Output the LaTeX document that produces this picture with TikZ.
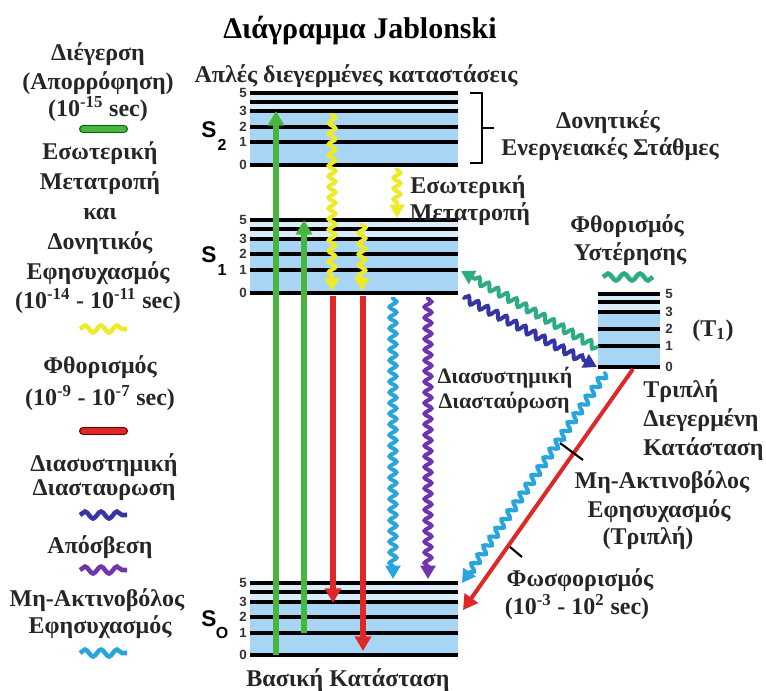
\documentclass[tikz,border=0pt]{standalone}
\usepackage{fontspec}
\setmainfont{Liberation Serif}
\setsansfont{Liberation Sans}
\usetikzlibrary{arrows.meta,decorations.pathmorphing}
\definecolor{lvlblue}{RGB}{168,213,243}
\definecolor{cgreen}{RGB}{72,182,62}
\definecolor{cred}{RGB}{222,40,40}
\definecolor{cyel}{RGB}{238,234,40}
\definecolor{ccyan}{RGB}{40,165,222}
\definecolor{cpurple}{RGB}{112,52,175}
\definecolor{cdblue}{RGB}{52,52,165}
\definecolor{cteal}{RGB}{45,172,132}
\tikzset{
  lvl/.style={line width=3.2pt},
  tx/.style={font=\fontsize{18}{20}\selectfont\bfseries, inner sep=0pt, anchor=base, text=black!85},
  txs/.style={font=\fontsize{16.5}{18}\selectfont\bfseries, inner sep=0pt, anchor=base, text=black!85},
  ttl/.style={font=\fontsize{22.5}{24}\selectfont\bfseries, inner sep=0pt, anchor=base},
  num/.style={font=\fontsize{10}{10}\selectfont\sffamily\bfseries, inner sep=0pt, text=black!80},
  slab/.style={font=\fontsize{17}{17}\selectfont\sffamily\bfseries, inner sep=0pt},
  ssub/.style={font=\fontsize{12}{12}\selectfont\sffamily\bfseries, inner sep=0pt},
  sarr/.style={line width=3.8pt, -{Triangle[width=12pt,length=11pt]}},
  warr/.style={line width=3pt, decorate, decoration={snake, amplitude=2.6pt, segment length=8pt, pre length=1pt, post length=9pt}, -{Triangle[width=11pt,length=10pt]}},
  legwave/.style={line width=3.4pt, decorate, decoration={snake, amplitude=2.6pt, segment length=12pt}},
  legbar/.style={line width=6pt, line cap=round},
}
\begin{document}
\begin{tikzpicture}[x=0.75pt,y=-0.75pt]
\useasboundingbox (0,0) rectangle (766,690);

% ---------- energy levels ----------
% S2
\fill[lvlblue] (250,111) rectangle (458,165);
\fill[lvlblue!45] (250,93) rectangle (458,111);
\foreach \y in {93,102,111,127,142,165} \draw[lvl] (250,\y) -- (458,\y);
\foreach \y/\n in {93/5,111/3,127/2,142/1,165/0} \node[num] (s2n\n) at (243,\y) {\n};
% S1
\fill[lvlblue] (250,239) rectangle (458,293);
\fill[lvlblue!45] (250,220) rectangle (458,239);
\foreach \y in {220,229,239,254,270,293} \draw[lvl] (250,\y) -- (458,\y);
\foreach \y/\n in {220/5,239/3,254/2,270/1,293/0} \node[num] (s1n\n) at (243,\y) {\n};
% S0
\fill[lvlblue] (250,602) rectangle (458,655);
\fill[lvlblue!45] (250,583) rectangle (458,602);
\foreach \y in {583,592,602,617,633,655} \draw[lvl] (250,\y) -- (458,\y);
\foreach \y/\n in {583/5,602/3,617/2,633/1,655/0} \node[num] (s0n\n) at (243,\y) {\n};
% T1
\fill[lvlblue] (598,312) rectangle (660,367);
\fill[lvlblue!45] (598,294) rectangle (660,312);
\foreach \y in {294,302,312,329,346,367} \draw[lvl] (598,\y) -- (660,\y);
\foreach \y/\n in {294/5,312/3,329/2,346/1,367/0} \node[num] (t1n\n) at (669,\y) {\n};

% state labels
\node[slab] (S2) at (209,130) {S};
\node[ssub] (S2s) at (222,145) {2};
\node[slab] (S1) at (209,255) {S};
\node[ssub] (S1s) at (222,270) {1};
\node[slab] (S0) at (209,619) {S};
\node[ssub] (S0s) at (222,633) {O};

% bracket
\draw[line width=2.2pt] (470,93) -- (482,93) -- (482,163) -- (470,163);
\draw[line width=2.2pt] (482,128) -- (494,128);

% ---------- titles ----------
\node[ttl] (title) at (360,38) {Διάγραμμα Jablonski};
\node[tx] (singlet) at (356,82) {Απλές διεγερμένες καταστάσεις};
\node[tx] (ground) at (348,686) {Βασική Κατάσταση};

% ---------- legend ----------
\node[tx] (l1) at (98,60) {Διέγερση};
\node[tx] (l2) at (98,89) {(Απορρόφηση)};
\node[tx] (l3) at (98,116) {(10\textsuperscript{-15} sec)};
\node[tx] (l4) at (100,159) {Εσωτερική};
\node[tx] (l5) at (100,189) {Μετατροπή};
\node[tx] (l6) at (100,219) {και};
\node[tx] (l7) at (100,249) {Δονητικός};
\node[tx] (l8) at (98,279) {Εφησυχασμός};
\node[tx] (l9) at (98,308) {(10\textsuperscript{-14} - 10\textsuperscript{-11} sec)};
\node[tx] (l10) at (100,373) {Φθορισμός};
\node[tx] (l11) at (100,405) {(10\textsuperscript{-9} - 10\textsuperscript{-7} sec)};
\node[tx] (l12) at (104,471) {Διασυστημική};
\node[tx] (l13) at (104,495) {Διασταυρωση};
\node[tx] (l14) at (100,553) {Απόσβεση};
\node[tx] (l15) at (97,606) {Μη-Ακτινοβόλος};
\node[tx] (l16) at (100,633) {Εφησυχασμός};

\draw[legbar, green!40!black] (83,129) -- (124,129);
\draw[legbar, line width=4pt, cgreen] (83,129) -- (124,129);
\draw[legwave, cyel] (80,329) -- (127,329);
\draw[legbar, red!40!black] (83,431) -- (124,431);
\draw[legbar, line width=4pt, cred] (83,431) -- (124,431);
\draw[legwave, cdblue] (80,515) -- (127,515);
\draw[legwave, cpurple] (80,570) -- (127,570);
\draw[legwave, ccyan] (80,653) -- (127,653);

% ---------- right labels ----------
\node[tx] (vib1) at (608,128) {Δονητικές};
\node[tx] (vib2) at (610,155) {Ενεργειακές Στάθμες};
\node[tx] (ic1) at (468,193) {Εσωτερική};
\node[tx] (ic2) at (470,220) {Μετατροπή};
\node[tx] (df1) at (627,232) {Φθορισμός};
\node[tx] (df2) at (630,260) {Υστέρησης};
\node[tx] (T1) at (713,336) {(T\textsubscript{1})};
\node[txs] (isc1) at (505,383) {Διασυστημική};
\node[txs] (isc2) at (504,408) {Διασταύρωση};
\node[tx, anchor=base west] (tr1) at (643,397) {Τριπλή};
\node[tx, anchor=base west] (tr2) at (643,426) {Διεγερμένη};
\node[tx, anchor=base west] (tr3) at (643,455) {Κατάσταση};
\node[tx] (nr1) at (662,488) {Μη-Ακτινοβόλος};
\node[tx] (nr2) at (659,517) {Εφησυχασμός};
\node[tx] (nr3) at (648,544) {(Τριπλή)};
\node[tx] (ph1) at (580,586) {Φωσφορισμός};
\node[tx] (ph2) at (577,614) {(10\textsuperscript{-3} - 10\textsuperscript{2} sec)};

\draw[legwave, cteal] (603,277) -- (653,277);

% ---------- transitions ----------
\coordinate (g1a) at (276,655); \coordinate (g1b) at (276,111);
\coordinate (g2a) at (304,633); \coordinate (g2b) at (304,220);
\coordinate (y1a) at (332,113); \coordinate (y1b) at (332,291);
\coordinate (y2a) at (362,223); \coordinate (y2b) at (362,291);
\coordinate (y3a) at (397,168); \coordinate (y3b) at (397,218);
\coordinate (r1a) at (333,296); \coordinate (r1b) at (333,603);
\coordinate (r2a) at (363,296); \coordinate (r2b) at (363,651);
\coordinate (c1a) at (393,297); \coordinate (c1b) at (393,579);
\coordinate (p1a) at (428,297); \coordinate (p1b) at (428,579);
\coordinate (tea) at (598,348); \coordinate (teb) at (461,271);
\coordinate (dba) at (463,297); \coordinate (dbb) at (597,367);
\coordinate (cda) at (606,372); \coordinate (cdb) at (462,583);
\coordinate (rda) at (633,369); \coordinate (rdb) at (463,610);

\draw[sarr, cgreen] (g1a) -- (g1b);
\draw[sarr, cgreen] (g2a) -- (g2b);
\draw[sarr, cred] (r1a) -- (r1b);
\draw[sarr, cred] (r2a) -- (r2b);
\draw[warr, cyel] (y1a) -- (y1b);
\draw[warr, cyel] (y2a) -- (y2b);
\draw[warr, cyel] (y3a) -- (y3b);
\draw[warr, ccyan] (c1a) -- (c1b);
\draw[warr, cpurple] (p1a) -- (p1b);
\draw[warr, cteal] (tea) -- (teb);
\draw[warr, cdblue] (dba) -- (dbb);
\draw[warr, ccyan] (cda) -- (cdb);
\draw[sarr, line width=3pt, cred] (rda) -- (rdb);

% leader ticks
\coordinate (k1a) at (560,443); \coordinate (k1b) at (583,460);
\coordinate (k2a) at (510,547); \coordinate (k2b) at (522,557);
\draw[line width=1.6pt] (k1a) -- (k1b);
\draw[line width=1.6pt] (k2a) -- (k2b);
\end{tikzpicture}
\end{document}
